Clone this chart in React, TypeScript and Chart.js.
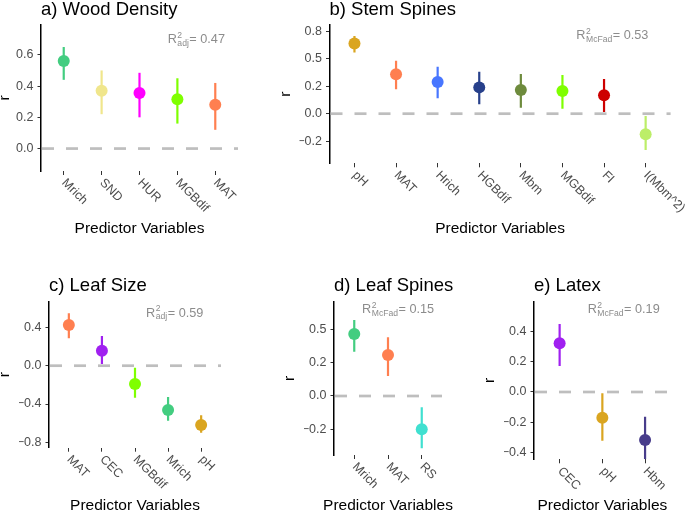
import React, { useEffect, useRef } from 'react';
import { Chart, registerables } from 'chart.js';
Chart.register(...registerables);

const FONT = '"Liberation Sans", Arial, Helvetica, sans-serif';

// a) Wood Density
const woodCats = ['Mrich', 'SND', 'HUR', 'MGBdif', 'MAT'];
const woodR = [0.56, 0.37, 0.355, 0.315, 0.28];
const woodLo = [0.44, 0.22, 0.2, 0.16, 0.12];
const woodHi = [0.65, 0.5, 0.485, 0.45, 0.42];
const woodColors = ['#43CD80', '#F0E68C', '#FF00FF', '#7FFF00', '#FF7F50'];
const woodTicks = [0, 0.2, 0.4, 0.6];
const woodTickLabels = ['0.0', '0.2', '0.4', '0.6'];

// b) Stem Spines
const stemCats = ['pH', 'MAT', 'Hrich', 'HGBdif', 'Mbm', 'MGBdif', 'FI', 'I(Mbm^2)'];
const stemR = [0.64, 0.36, 0.29, 0.24, 0.215, 0.207, 0.168, -0.188];
const stemLo = [0.557, 0.222, 0.14, 0.086, 0.055, 0.046, 0.016, -0.331];
const stemHi = [0.709, 0.484, 0.429, 0.383, 0.362, 0.353, 0.317, -0.021];
const stemColors = ['#DAA520', '#FF7F50', '#4876FF', '#27408B', '#6E8B3D', '#7FFF00', '#CD0000', '#BCEE68'];
const stemTicks = [-0.25, 0, 0.25, 0.5, 0.75];
const stemTickLabels = ['\u22120.2', '0.0', '0.2', '0.5', '0.8'];

// c) Leaf Size
const sizeCats = ['MAT', 'CEC', 'MGBdif', 'Mrich', 'pH'];
const sizeR = [0.425, 0.157, -0.191, -0.462, -0.619];
const sizeLo = [0.286, 0.018, -0.334, -0.574, -0.699];
const sizeHi = [0.547, 0.31, -0.021, -0.327, -0.518];
const sizeColors = ['#FF7F50', '#A020F0', '#7FFF00', '#43CD80', '#DAA520'];
const sizeTicks = [-0.8, -0.4, 0, 0.4];
const sizeTickLabels = ['\u22120.8', '\u22120.4', '0.0', '0.4'];

// d) Leaf Spines
const spineCats = ['Mrich', 'MAT', 'RS'];
const spineR = [0.465, 0.308, -0.25];
const spineLo = [0.332, 0.15, -0.392];
const spineHi = [0.57, 0.44, -0.085];
const spineColors = ['#43CD80', '#FF7F50', '#40E0D0'];
const spineTicks = [-0.25, 0, 0.25, 0.5];
const spineTickLabels = ['\u22120.2', '0.0', '0.2', '0.5'];

// e) Latex
const latexCats = ['CEC', 'pH', 'Hbm'];
const latexR = [0.322, -0.17, -0.317];
const latexLo = [0.172, -0.322, -0.445];
const latexHi = [0.45, -0.009, -0.163];
const latexColors = ['#A020F0', '#DAA520', '#483D8B'];
const latexTicks = [-0.4, -0.2, 0, 0.2, 0.4];
const latexTickLabels = ['\u22120.4', '\u22120.2', '0.0', '0.2', '0.4'];

const panels = [
  { key: 'a', title: 'a) Wood Density', cats: woodCats, r: woodR, lo: woodLo, hi: woodHi, colors: woodColors,
    ticks: woodTicks, tickLabels: woodTickLabels, yMin: -0.1436, yMax: 0.791,
    area: { l: 41, t: 25, r: 238, b: 171 }, titleY: 14.5, xTitleY: 232.5,
    r2Sub: 'adj', r2Val: '0.47', r2X: 4.5, r2Y: 0.703 },
  { key: 'b', title: 'b) Stem Spines', cats: stemCats, r: stemR, lo: stemLo, hi: stemHi, colors: stemColors,
    ticks: stemTicks, tickLabels: stemTickLabels, yMin: -0.4526, yMax: 0.809,
    area: { l: 329.5, t: 25, r: 670.6, b: 163.3 }, titleY: 14.5, xTitleY: 232.5,
    r2Sub: 'McFad', r2Val: '0.53', r2X: 7.2, r2Y: 0.72 },
  { key: 'c', title: 'c) Leaf Size', cats: sizeCats, r: sizeR, lo: sizeLo, hi: sizeHi, colors: sizeColors,
    ticks: sizeTicks, tickLabels: sizeTickLabels, yMin: -0.856, yMax: 0.668,
    area: { l: 49, t: 301.7, r: 221, b: 447.7 }, titleY: 290.5, xTitleY: 509.5,
    r2Sub: 'adj', r2Val: '0.59', r2X: 4.2, r2Y: 0.558 },
  { key: 'd', title: 'd) Leaf Spines', cats: spineCats, r: spineR, lo: spineLo, hi: spineHi, colors: spineColors,
    ticks: spineTicks, tickLabels: spineTickLabels, yMin: -0.4426, yMax: 0.7074,
    area: { l: 334, t: 301.7, r: 442, b: 455 }, titleY: 290.5, xTitleY: 509.5,
    r2Sub: 'McFad', r2Val: '0.15', r2X: 2.3, r2Y: 0.654 },
  { key: 'e', title: 'e) Latex', cats: latexCats, r: latexR, lo: latexLo, hi: latexHi, colors: latexColors,
    ticks: latexTicks, tickLabels: latexTickLabels, yMin: -0.445, yMax: 0.597,
    area: { l: 534, t: 301.7, r: 670.7, b: 459.3 }, titleY: 290.5, xTitleY: 509.5,
    r2Sub: 'McFad', r2Val: '0.19', r2X: 2.5, r2Y: 0.55 },
];

const W = 685;
const H = 510;
const TICK_FONT = 12.5;
const Y_TICK_LEN = 3.5;
const Y_TICK_PAD = 4;

const decorPlugin = {
  id: 'decor',
  beforeDatasetsDraw(chart: any) {
    const { ctx, chartArea } = chart;
    const y0 = chart.scales.y.getPixelForValue(0);
    ctx.save();
    ctx.strokeStyle = '#BEBEBE';
    ctx.lineWidth = 2.7;
    ctx.lineCap = 'butt';
    ctx.setLineDash([12, 12]);
    ctx.beginPath();
    ctx.moveTo(chartArea.left + 1, y0);
    ctx.lineTo(chartArea.right, y0);
    ctx.stroke();
    ctx.restore();
  },
  afterDraw(chart: any, _args: any, opts: any) {
    const { ctx, chartArea } = chart;
    const xs = chart.scales.x;
    const ys = chart.scales.y;
    ctx.save();
    // panel title
    ctx.fillStyle = '#000';
    ctx.font = `18.5px ${FONT}`;
    ctx.textAlign = 'left';
    ctx.textBaseline = 'alphabetic';
    ctx.fillText(opts.title, chartArea.left, opts.titleY);

    // R^2 annotation
    const px = xs.getPixelForValue(opts.r2X);
    const py = ys.getPixelForValue(opts.r2Y) + 4.5;
    const big = `12.7px ${FONT}`;
    const small = `8.6px ${FONT}`;
    ctx.font = big;
    const wR = ctx.measureText('R').width;
    const rest = '= ' + opts.r2Val;
    const wRest = ctx.measureText(rest).width;
    ctx.font = small;
    const wSup = ctx.measureText('2').width;
    const wSub = ctx.measureText(opts.r2Sub).width;
    const wMid = Math.max(wSup, wSub) + 1;
    const total = wR + wMid + wRest;
    const sx = px - total / 2;
    ctx.fillStyle = '#8C8C8C';
    ctx.font = big;
    ctx.fillText('R', sx, py);
    ctx.fillText(rest, sx + wR + wMid, py);
    ctx.font = small;
    ctx.fillText('2', sx + wR + 0.5, py - 5.5);
    ctx.fillText(opts.r2Sub, sx + wR + 0.5, py + 2.5);

    // x tick labels (rotated clockwise 45deg)
    ctx.fillStyle = '#4D4D4D';
    ctx.font = `${TICK_FONT}px ${FONT}`;
    ctx.textAlign = 'left';
    ctx.textBaseline = 'top';
    opts.cats.forEach((c: string, i: number) => {
      const tx = xs.getPixelForValue(i + 1);
      ctx.save();
      ctx.translate(tx + 4.5, chartArea.bottom + 5.5);
      ctx.rotate(Math.PI / 4);
      ctx.fillText(c, 0, 0);
      ctx.restore();
    });

    // x axis title
    ctx.fillStyle = '#000';
    ctx.font = `15.5px ${FONT}`;
    ctx.textAlign = 'center';
    ctx.textBaseline = 'alphabetic';
    ctx.fillText('Predictor Variables', (chartArea.left + chartArea.right) / 2, opts.xTitleY);

    // y axis title
    ctx.font = `${TICK_FONT}px ${FONT}`;
    let maxW = 0;
    opts.tickLabels.forEach((t: string) => { maxW = Math.max(maxW, ctx.measureText(t).width); });
    const yx = chartArea.left - Y_TICK_LEN - Y_TICK_PAD - maxW - 7.5;
    ctx.font = `15.5px ${FONT}`;
    ctx.translate(yx, (chartArea.top + chartArea.bottom) / 2);
    ctx.rotate(-Math.PI / 2);
    ctx.textAlign = 'center';
    ctx.fillText('r', 0, 0);
    ctx.restore();
  },
};

function Panel({ cfg }: { cfg: any }) {
  const ref = useRef<HTMLCanvasElement | null>(null);
  useEffect(() => {
    if (!ref.current) return;
    const n = cfg.cats.length;
    const idx = cfg.cats.map((_: string, i: number) => i + 1);
    const bars = cfg.cats.map((c: string, i: number) => ({
      type: 'line',
      label: c,
      data: [{ x: idx[i], y: cfg.lo[i] }, { x: idx[i], y: cfg.hi[i] }],
      borderColor: cfg.colors[i],
      borderWidth: 2.2,
      borderCapStyle: 'butt',
      pointRadius: 0,
      showLine: true,
      order: 2,
    }));
    const pts = {
      type: 'scatter',
      label: 'r',
      data: cfg.r.map((v: number, i: number) => ({ x: idx[i], y: v })),
      pointBackgroundColor: cfg.colors,
      pointBorderWidth: 0,
      pointRadius: 6,
      order: 1,
    };
    const a = cfg.area;
    const chart = new Chart(ref.current, {
      type: 'scatter',
      data: { datasets: [pts, ...bars] as any },
      options: {
        responsive: false,
        animation: false,
        events: [],
        devicePixelRatio: 1,
        layout: { padding: { left: a.l - 30, top: a.t, right: W - a.r, bottom: 0 } },
        plugins: {
          legend: { display: false },
          tooltip: { enabled: false },
          title: { display: false },
          decor: {
            title: cfg.title, titleY: cfg.titleY, xTitleY: cfg.xTitleY, cats: cfg.cats,
            tickLabels: cfg.tickLabels, r2Sub: cfg.r2Sub, r2Val: cfg.r2Val, r2X: cfg.r2X, r2Y: cfg.r2Y,
          },
        } as any,
        scales: {
          x: {
            type: 'linear',
            min: 0.4,
            max: n + 0.6,
            bounds: 'data',
            afterBuildTicks: (s: any) => { s.ticks = idx.map((v: number) => ({ value: v })); },
            afterFit: (s: any) => { s.height = H - a.b; },
            ticks: { display: false, autoSkip: false },
            grid: { display: true, drawOnChartArea: false, drawTicks: true, tickLength: 4, color: '#333333', lineWidth: 1 },
            border: { display: false },
          },
          y: {
            type: 'linear',
            min: cfg.yMin,
            max: cfg.yMax,
            bounds: 'data',
            afterBuildTicks: (s: any) => { s.ticks = cfg.ticks.map((v: number) => ({ value: v })); },
            afterFit: (s: any) => { s.width = 30; },
            ticks: {
              autoSkip: false,
              padding: Y_TICK_PAD,
              color: '#4D4D4D',
              font: { family: FONT, size: TICK_FONT },
              callback: (_v: any, i: number) => cfg.tickLabels[i],
            },
            grid: { display: true, drawOnChartArea: false, drawTicks: true, tickLength: Y_TICK_LEN, color: '#333333', lineWidth: 1 },
            border: { display: true, color: '#000000', width: 1.5 },
          },
        },
      } as any,
      plugins: [decorPlugin as any],
    });
    return () => chart.destroy();
  }, []);
  return (
    <canvas
      ref={ref}
      width={W}
      height={H}
      style={{ position: 'absolute', left: 0, top: 0, width: W, height: H }}
    />
  );
}

export default function App() {
  return (
    <div style={{ position: 'fixed', left: 0, top: 0, width: W, height: H, background: '#ffffff' }}>
      {panels.map((p) => (
        <Panel key={p.key} cfg={p} />
      ))}
    </div>
  );
}
